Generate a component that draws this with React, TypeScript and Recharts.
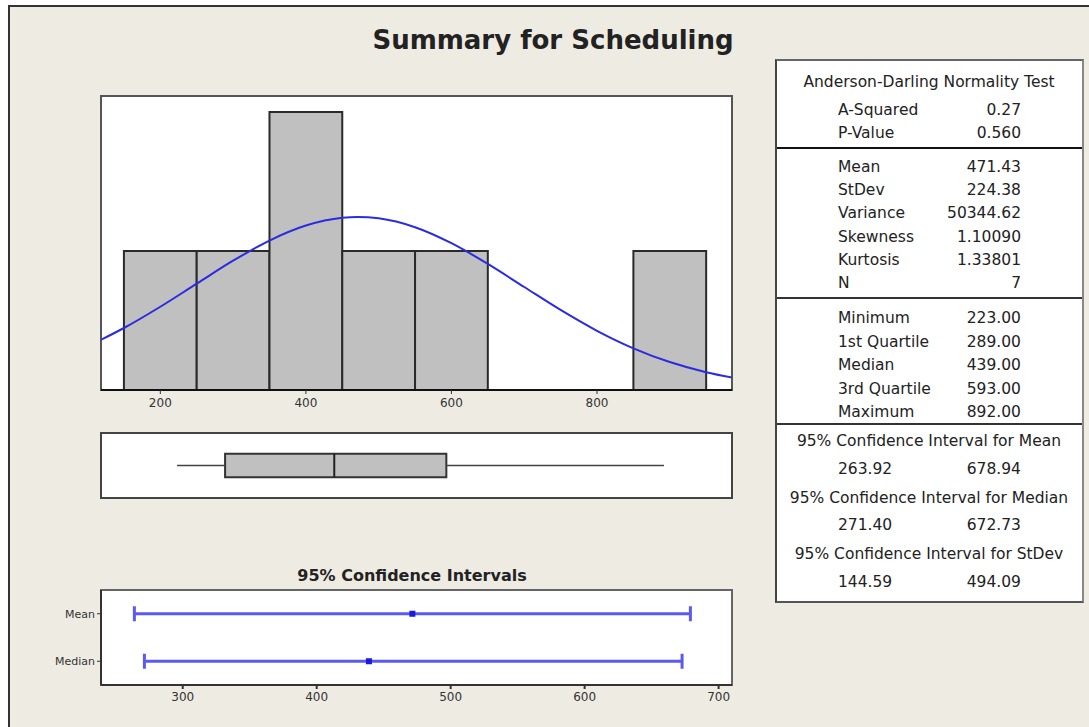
import React from 'react';
import { ComposedChart, Line, XAxis, YAxis, ReferenceArea, ReferenceLine, Scatter, ErrorBar } from 'recharts';

// ---------- data ----------
const chartTitle = 'Summary for Scheduling';

const binStarts = [150, 250, 350, 450, 550, 650, 750, 850];
const binEnds = [250, 350, 450, 550, 650, 750, 850, 950];
const binCounts = [1, 1, 2, 1, 1, 0, 0, 1];

const curveX = [118, 150, 200, 250, 300, 350, 400, 450, 471, 500, 550, 600, 650, 700, 750, 800, 850, 900, 950, 986];
const curveY = [0.36, 0.446, 0.599, 0.765, 0.93, 1.075, 1.183, 1.239, 1.245, 1.235, 1.171, 1.056, 0.907, 0.741, 0.576, 0.426, 0.3, 0.201, 0.128, 0.089];

const histTicks = [200, 400, 600, 800];

const boxMin = 223;
const boxQ1 = 289;
const boxMedian = 439;
const boxQ3 = 593;
const boxMax = 892;

const ciTitle = '95% Confidence Intervals';
const ciLabels = ['Mean', 'Median'];
const ciEstimates = [471.43, 439.0];
const ciLower = [263.92, 271.4];
const ciUpper = [678.94, 672.73];
const ciTicks = [300, 400, 500, 600, 700];

const adTitle = 'Anderson-Darling Normality Test';
const adLabels = ['A-Squared', 'P-Value'];
const adValues = ['0.27', '0.560'];
const descLabels = ['Mean', 'StDev', 'Variance', 'Skewness', 'Kurtosis', 'N'];
const descValues = ['471.43', '224.38', '50344.62', '1.10090', '1.33801', '7'];
const quantLabels = ['Minimum', '1st Quartile', 'Median', '3rd Quartile', 'Maximum'];
const quantValues = ['223.00', '289.00', '439.00', '593.00', '892.00'];
const ciTableTitles = [
  '95% Confidence Interval for Mean',
  '95% Confidence Interval for Median',
  '95% Confidence Interval for StDev',
];
const ciTableLow = ['263.92', '271.40', '144.59'];
const ciTableHigh = ['678.94', '672.73', '494.09'];

// ---------- layout / style ----------
const FONT = '"DejaVu Sans", Tahoma, Verdana, sans-serif';
const BG = '#EEEBE3';
const histDomain: [number, number] = [118.5, 985.5];
const histYMax = 2.115;
const ciDomain: [number, number] = [239, 710];
const boxHalf = 0.18;

const curveData = curveX.map((x, i) => ({ x, y: curveY[i] }));
const ciRows = ciLabels.map((label, i) => ({
  label,
  est: ciEstimates[i],
  pos: ciLabels.length - i - 0.5,
  err: [ciEstimates[i] - ciLower[i], ciUpper[i] - ciEstimates[i]],
}));

const tickStyle = { fontSize: 12, fill: '#333', fontFamily: FONT };

function TextLine({ y, x, text, align = 'left', width = 300, size = 15.5, bold = false }: any) {
  const lh = 20;
  const style: React.CSSProperties = {
    position: 'absolute',
    top: y - lh / 2,
    height: lh,
    lineHeight: lh + 'px',
    fontSize: size,
    fontFamily: FONT,
    fontWeight: bold ? 'bold' : 'normal',
    color: '#222',
    whiteSpace: 'nowrap',
  };
  if (align === 'left') style.left = x;
  else if (align === 'right') {
    style.left = x - width;
    style.width = width;
    style.textAlign = 'right';
  } else {
    style.left = x - width / 2;
    style.width = width;
    style.textAlign = 'center';
  }
  return <div style={style}>{text}</div>;
}

function StatsTable() {
  const labelX = 838;
  const valueX = 1021;
  const centerX = 929;
  const items: any[] = [];
  items.push(<TextLine key="adt" y={82} x={centerX} align="center" text={adTitle} />);
  adLabels.forEach((l, i) => {
    const y = 110 + i * 23;
    items.push(<TextLine key={'al' + i} y={y} x={labelX} text={l} />);
    items.push(<TextLine key={'av' + i} y={y} x={valueX} align="right" width={120} text={adValues[i]} />);
  });
  descLabels.forEach((l, i) => {
    const y = 167 + i * 23.2;
    items.push(<TextLine key={'dl' + i} y={y} x={labelX} text={l} />);
    items.push(<TextLine key={'dv' + i} y={y} x={valueX} align="right" width={120} text={descValues[i]} />);
  });
  quantLabels.forEach((l, i) => {
    const y = 318 + i * 23.6;
    items.push(<TextLine key={'ql' + i} y={y} x={labelX} text={l} />);
    items.push(<TextLine key={'qv' + i} y={y} x={valueX} align="right" width={120} text={quantValues[i]} />);
  });
  ciTableTitles.forEach((t, i) => {
    const y = 441 + i * 56.5;
    items.push(<TextLine key={'ct' + i} y={y} x={centerX} align="center" width={320} text={t} />);
    items.push(<TextLine key={'cl' + i} y={y + 27.5} x={labelX} text={ciTableLow[i]} />);
    items.push(<TextLine key={'ch' + i} y={y + 27.5} x={valueX} align="right" width={120} text={ciTableHigh[i]} />);
  });
  return (
    <>
      <div
        style={{
          position: 'absolute',
          left: 775,
          top: 59,
          width: 305,
          height: 540,
          background: '#fff',
          borderTop: '2px solid #666',
          borderRight: '2px solid #888',
          borderBottom: '2px solid #555',
          borderLeft: '2px solid #444',
        }}
      />
      <div style={{ position: 'absolute', left: 777, top: 147, width: 305, height: 2, background: '#111' }} />
      <div style={{ position: 'absolute', left: 777, top: 297, width: 305, height: 2, background: '#333' }} />
      <div style={{ position: 'absolute', left: 777, top: 423, width: 305, height: 2, background: '#333' }} />
      {items}
    </>
  );
}

export default function App() {
  return (
    <div style={{ position: 'absolute', left: 0, top: 0, width: 1089, height: 727, background: '#fff', overflow: 'hidden' }}>
      <div
        style={{
          position: 'absolute',
          left: 8,
          top: 5,
          width: 1100,
          height: 740,
          background: BG,
          borderLeft: '2px solid #333',
          borderTop: '2px solid #333',
        }}
      />
      <TextLine y={40} x={553} align="center" width={520} size={26} bold text={chartTitle} />

      {/* Histogram with normal curve */}
      <div style={{ position: 'absolute', left: 0, top: 0 }}>
        <ComposedChart width={760} height={430} data={curveData} margin={{ top: 96, left: 101, right: 28, bottom: 10 }}>
          <XAxis
            type="number"
            dataKey="x"
            domain={histDomain}
            allowDataOverflow
            ticks={histTicks}
            interval={0}
            height={30}
            axisLine={{ stroke: '#111', strokeWidth: 2 }}
            tickLine={{ stroke: '#333' }}
            tickSize={4}
            tickMargin={4}
            tick={tickStyle}
          />
          <YAxis type="number" domain={[0, histYMax]} allowDataOverflow hide width={0} />
          <ReferenceArea
            x1={histDomain[0]}
            x2={histDomain[1]}
            y1={0}
            y2={histYMax}
            fill="#fff"
            fillOpacity={1}
            stroke="#555"
            strokeWidth={2}
          />
          {binStarts.map((s, i) =>
            binCounts[i] > 0 ? (
              <ReferenceArea
                key={i}
                x1={s}
                x2={binEnds[i]}
                y1={0}
                y2={binCounts[i]}
                fill="#c0c0c0"
                fillOpacity={1}
                stroke="#2a2a2a"
                strokeWidth={2}
              />
            ) : null
          )}
          <Line type="monotone" dataKey="y" stroke="#2b2be0" strokeWidth={2} dot={false} isAnimationActive={false} />
        </ComposedChart>
      </div>

      {/* Boxplot */}
      <div style={{ position: 'absolute', left: 0, top: 420 }}>
        <ComposedChart width={760} height={90} data={[{ v: boxMedian }]} margin={{ top: 13, left: 101, right: 28, bottom: 12 }}>
          <XAxis type="number" dataKey="v" domain={histDomain} allowDataOverflow hide height={0} />
          <YAxis type="number" domain={[0, 1]} allowDataOverflow hide width={0} />
          <ReferenceArea
            x1={histDomain[0]}
            x2={histDomain[1]}
            y1={0}
            y2={1}
            fill="#fff"
            fillOpacity={1}
            stroke="#444"
            strokeWidth={2}
          />
          <ReferenceLine segment={[{ x: boxMin, y: 0.5 }, { x: boxQ1, y: 0.5 }]} stroke="#444" strokeWidth={1.5} />
          <ReferenceLine segment={[{ x: boxQ3, y: 0.5 }, { x: boxMax, y: 0.5 }]} stroke="#444" strokeWidth={1.5} />
          <ReferenceArea
            x1={boxQ1}
            x2={boxQ3}
            y1={0.5 - boxHalf}
            y2={0.5 + boxHalf}
            fill="#c0c0c0"
            fillOpacity={1}
            stroke="#333"
            strokeWidth={2}
          />
          <ReferenceLine
            segment={[{ x: boxMedian, y: 0.5 - boxHalf }, { x: boxMedian, y: 0.5 + boxHalf }]}
            stroke="#222"
            strokeWidth={2}
          />
        </ComposedChart>
      </div>

      {/* CI title */}
      <TextLine y={576} x={412} align="center" width={320} size={16} bold text={ciTitle} />

      {/* Confidence intervals */}
      <div style={{ position: 'absolute', left: 0, top: 560 }}>
        <ComposedChart width={760} height={167} data={ciRows} margin={{ top: 30, left: 41, right: 28, bottom: 12 }}>
          <XAxis
            type="number"
            dataKey="est"
            domain={ciDomain}
            allowDataOverflow
            ticks={ciTicks}
            interval={0}
            height={30}
            axisLine={{ stroke: '#333', strokeWidth: 2 }}
            tickLine={{ stroke: '#333', strokeWidth: 2 }}
            tickSize={4}
            tickMargin={3}
            tick={tickStyle}
          />
          <YAxis
            type="number"
            dataKey="pos"
            domain={[0, ciLabels.length]}
            allowDataOverflow
            ticks={ciRows.map((r) => r.pos)}
            interval={0}
            tickFormatter={(v: number) => ciLabels[ciLabels.length - 0.5 - v]}
            width={60}
            axisLine={{ stroke: '#333', strokeWidth: 2 }}
            tickLine={{ stroke: '#333' }}
            tickSize={4}
            tick={{ ...tickStyle, fontSize: 11 }}
          />
          <ReferenceArea
            x1={ciDomain[0]}
            x2={ciDomain[1]}
            y1={0}
            y2={ciLabels.length}
            fill="#fff"
            fillOpacity={1}
            stroke="#666"
            strokeWidth={2}
          />
          <Scatter
            dataKey="pos"
            isAnimationActive={false}
            fill="#1a1ae0"
            shape={(p: any) => <rect x={p.cx - 3} y={p.cy - 3} width={6} height={6} fill="#1a1ae0" />}
          >
            <ErrorBar dataKey="err" direction="x" width={7.5} stroke="#5a5af0" strokeWidth={3} isAnimationActive={false} />
          </Scatter>
        </ComposedChart>
      </div>

      <StatsTable />
    </div>
  );
}
